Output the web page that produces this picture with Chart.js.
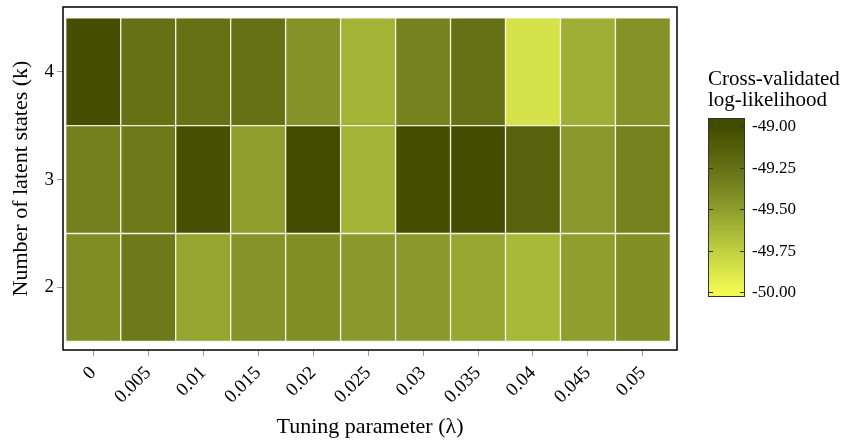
<!DOCTYPE html>
<html>
<head>
<meta charset="utf-8">
<script src="https://cdn.jsdelivr.net/npm/chart.js@4/dist/chart.umd.min.js"></script>
<style>
html, body { margin: 0; padding: 0; background: #fff; }
#wrap { width: 847px; height: 442px; }
</style>
</head>
<body>
<div id="wrap"><canvas id="heat"></canvas></div>
<script>
// tuning parameter values (x) and number of latent states (y)
const lambdas = ['0', '0.005', '0.01', '0.015', '0.02', '0.025', '0.03', '0.035', '0.04', '0.045', '0.05'];
const states = [2, 3, 4];

// cross-validated log-likelihood, one row per k
const ll2 = [-49.41, -49.30, -49.54, -49.45, -49.42, -49.48, -49.48, -49.55, -49.63, -49.51, -49.42];
const ll3 = [-49.34, -49.30, -49.03, -49.51, -49.00, -49.61, -49.02, -49.01, -49.15, -49.48, -49.35];
const ll4 = [-49.02, -49.25, -49.25, -49.25, -49.44, -49.61, -49.35, -49.25, -49.86, -49.59, -49.44];

const colorbarTicks = [-49.00, -49.25, -49.50, -49.75, -50.00];
const colorbarTitle = ['Cross-validated', 'log-likelihood'];

// yellow -> dark olive colour map
const cmap = [
    [-50.00, [242, 250, 82]],
    [-49.75, [192, 208, 66]],
    [-49.50, [141, 157, 45]],
    [-49.25, [102, 112, 20]],
    [-49.00, [66, 76, 0]]
];

const valueColor = v => {
    if (v <= cmap[0][0]) return `rgb(${cmap[0][1].join(',')})`;
    for (let i = 1; i < cmap.length; i++) {
        if (v <= cmap[i][0]) {
            const t = (v - cmap[i - 1][0]) / (cmap[i][0] - cmap[i - 1][0]);
            const a = cmap[i - 1][1], b = cmap[i][1];
            const c = a.map((x, j) => Math.round(x + (b[j] - x) * t));
            return `rgb(${c.join(',')})`;
        }
    }
    return `rgb(${cmap[cmap.length - 1][1].join(',')})`;
};

const rows = [ll2, ll3, ll4];
const serif = "'Liberation Serif', 'DejaVu Serif', serif";
Chart.defaults.font.family = serif;
Chart.defaults.color = '#000';

const datasets = rows.map((vals, r) => ({
    label: 'k = ' + states[r],
    data: vals.map((v, i) => ({ x: i, y: [states[r] - 0.5, states[r] + 0.5] })),
    backgroundColor: vals.map(valueColor),
    borderColor: 'rgba(240,242,225,0.9)',
    borderWidth: 1,
    borderSkipped: false,
    barPercentage: 1,
    categoryPercentage: 1
}));

const framePlugin = {
    id: 'frame',
    afterDraw: chart => {
        const { ctx, chartArea: a } = chart;
        ctx.save();
        ctx.strokeStyle = '#000';
        ctx.lineWidth = 1.5;
        ctx.strokeRect(a.left, a.top, a.right - a.left, a.bottom - a.top);
        ctx.restore();
    }
};

const colorbarPlugin = {
    id: 'colorbar',
    afterDraw: chart => {
        const { ctx, chartArea: a } = chart;
        const left = a.right + 31, width = 37;
        const top = 118, bottom = 297;
        const vMax = -48.95, vMin = -50.03;
        const yOf = v => top + (vMax - v) / (vMax - vMin) * (bottom - top);

        ctx.save();
        const grad = ctx.createLinearGradient(0, yOf(cmap[0][0]), 0, yOf(cmap[cmap.length - 1][0]));
        cmap.forEach(([v, c], i) => grad.addColorStop(i / (cmap.length - 1), `rgb(${c.join(',')})`));
        ctx.fillStyle = grad;
        ctx.fillRect(left, top, width, bottom - top);
        ctx.strokeStyle = '#333';
        ctx.lineWidth = 1;
        ctx.strokeRect(left + 0.5, top + 0.5, width - 1, bottom - top - 1);

        ctx.fillStyle = '#000';
        ctx.font = '17px ' + serif;
        ctx.textBaseline = 'middle';
        ctx.textAlign = 'left';
        colorbarTicks.forEach(v => {
            const y = Math.round(yOf(v)) + 0.5;
            ctx.beginPath();
            ctx.moveTo(left, y); ctx.lineTo(left + 5, y);
            ctx.moveTo(left + width - 5, y); ctx.lineTo(left + width, y);
            ctx.stroke();
            ctx.fillText(v.toFixed(2), left + width + 7, y);
        });

        ctx.font = '21px ' + serif;
        ctx.textBaseline = 'alphabetic';
        colorbarTitle.forEach((t, i) => ctx.fillText(t, left, 85 + i * 21));
        ctx.restore();
    }
};

new Chart(document.getElementById('heat'), {
    type: 'bar',
    data: { datasets: datasets },
    options: {
        responsive: true,
        maintainAspectRatio: false,
        animation: false,
        layout: { padding: { top: 7, right: 170, left: 0, bottom: 0 } },
        plugins: { legend: { display: false }, tooltip: { enabled: false } },
        scales: {
            x: {
                type: 'linear',
                stacked: true,
                offset: false,
                min: -0.55,
                max: 10.62,
                afterBuildTicks: s => { s.ticks = lambdas.map((_, i) => ({ value: i })); },
                afterFit: s => { s.height = 92; s.paddingLeft = 0; s.paddingRight = 0; },
                ticks: {
                    callback: v => lambdas[v],
                    minRotation: 45,
                    maxRotation: 45,
                    autoSkip: false,
                    padding: 6,
                    font: { size: 19 }
                },
                grid: { drawOnChartArea: false, offset: false, tickLength: 6, color: '#999' },
                border: { display: false },
                title: { display: true, text: 'Tuning parameter (λ)', font: { size: 22 }, padding: { top: 0, bottom: 2 } }
            },
            y: {
                type: 'linear',
                stacked: false,
                min: 1.42,
                max: 4.6,
                afterBuildTicks: s => { s.ticks = states.map(k => ({ value: k })); },
                afterFit: s => { s.width = 63; s.paddingTop = 0; s.paddingBottom = 0; },
                ticks: { padding: 3, font: { size: 19 } },
                grid: { drawOnChartArea: false, tickLength: 6, color: '#999' },
                border: { display: false },
                title: { display: true, text: 'Number of latent states (k)', font: { size: 22 }, padding: { top: 8, bottom: 0 } }
            }
        }
    },
    plugins: [framePlugin, colorbarPlugin]
});
</script>
</body>
</html>
